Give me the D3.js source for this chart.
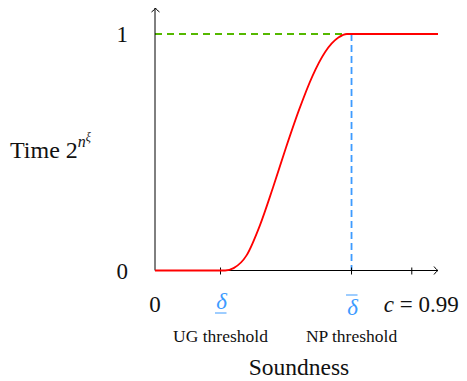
<!DOCTYPE html>
<html>
<head>
<meta charset="utf-8">
<script src="https://cdn.jsdelivr.net/npm/d3@7"></script>
<style>
  body { margin: 0; background: #fff; }
  text { font-family: "Liberation Serif", "DejaVu Serif", serif; fill: #111; }
</style>
</head>
<body>
<svg width="467" height="381"></svg>
<script>
// data (x in axis units, y as fraction of the max time)
var curveX = [0, 1.07, 1.2, 1.4, 1.6, 1.8, 2.0, 2.2, 2.4, 2.6, 2.8, 2.93, 3.0, 4.32];
var curveY = [0, 0, 0.01, 0.065, 0.19, 0.35, 0.52, 0.68, 0.82, 0.925, 0.985, 1.0, 1.0, 1.0];
var tickX = [0, 1, 3, 3.92];
var tickLabels = ["0", "δ", "δ", "c = 0.99"];
var yTicks = [0, 1];
var thresholds = [1, 3];
var thresholdNames = ["UG threshold", "NP threshold"];
var npDelta = 3; // where the curve reaches 1

var svg = d3.select("svg");
var x = d3.scaleLinear().domain([0, 4.32]).range([155, 438]);
var y = d3.scaleLinear().domain([0, 1]).range([270.5, 34]);
var blue = "#3d9bff";

var g = svg.append("g");

// little latex style arrow tips
function arrow(px, py, dir) {
  var p = dir == "up"
    ? "M" + (px - 4) + "," + (py + 4) + " Q" + px + "," + (py + 1) + " " + px + "," + py + " Q" + px + "," + (py + 1) + " " + (px + 4) + "," + (py + 4)
    : "M" + (px - 4) + "," + (py - 4) + " Q" + (px - 1) + "," + py + " " + px + "," + py + " Q" + (px - 1) + "," + py + " " + (px - 4) + "," + (py + 4);
  g.append("path").attr("d", p).attr("fill", "none").attr("stroke", "#000").attr("stroke-width", 1);
}

// dashed guides
g.append("line")
  .attr("x1", x(0)).attr("x2", x(npDelta))
  .attr("y1", y(1)).attr("y2", y(1))
  .attr("stroke", "#55b800").attr("stroke-width", 1.8)
  .attr("stroke-dasharray", "7,5");
g.append("line")
  .attr("x1", x(npDelta)).attr("x2", x(npDelta))
  .attr("y1", y(1)).attr("y2", y(0))
  .attr("stroke", blue).attr("stroke-width", 1.8)
  .attr("stroke-dasharray", "7,4");

// axes
g.append("line").attr("x1", x(0)).attr("x2", x(0)).attr("y1", y(0)).attr("y2", 8)
  .attr("stroke", "#000").attr("stroke-width", 1);
arrow(x(0) + 0.5, 8, "up");
g.append("line").attr("x1", x(0)).attr("x2", 438).attr("y1", y(0)).attr("y2", y(0))
  .attr("stroke", "#000").attr("stroke-width", 1);
arrow(438, y(0), "right");

// x ticks
g.selectAll(".xt").data(tickX.slice(1)).enter().append("line")
  .attr("x1", function(d) { return x(d); }).attr("x2", function(d) { return x(d); })
  .attr("y1", y(0) - 3).attr("y2", y(0) + 4)
  .attr("stroke", "#000").attr("stroke-width", 1);

// curve
var line = d3.line()
  .x(function(d) { return x(d[0]); })
  .y(function(d) { return y(d[1]); })
  .curve(d3.curveMonotoneX);
g.append("path")
  .datum(d3.zip(curveX, curveY))
  .attr("d", line)
  .attr("fill", "none").attr("stroke", "#ff0000").attr("stroke-width", 1.8);

// y tick labels
g.selectAll(".yl").data(yTicks).enter().append("text")
  .attr("x", 128).attr("y", function(d) { return y(d) + 8; })
  .attr("text-anchor", "end").attr("font-size", 23)
  .text(function(d) { return d; });

// x tick labels
tickX.forEach(function(v, i) {
  var t = g.append("text").attr("y", 312).attr("font-size", 23);
  if (i == 0) {
    t.attr("x", x(v)).attr("text-anchor", "middle").text(tickLabels[i]);
  } else if (i == 3) {
    t.attr("x", x(v) - 28).attr("text-anchor", "start");
    t.append("tspan").attr("font-style", "italic").text("c");
    t.append("tspan").text(" = 0.99");
  } else {
    // underline for the lower threshold, overline for the upper one
    var by = i == 1 ? 313 : 295;
    t.attr("x", x(v) + 1).attr("y", i == 1 ? 309 : 315).attr("text-anchor", "middle")
      .attr("font-style", "italic").style("fill", blue).text(tickLabels[i]);
    g.append("line").attr("x1", x(v) - 5.5).attr("x2", x(v) + 6)
      .attr("y1", by).attr("y2", by).attr("stroke", blue).attr("stroke-width", 1);
  }
});

// threshold names
g.selectAll(".tn").data(thresholds).enter().append("text")
  .attr("x", function(d) { return x(d); }).attr("y", 342)
  .attr("text-anchor", "middle").attr("font-size", 17.5)
  .text(function(d, i) { return thresholdNames[i]; });

// axis titles
g.append("text").attr("x", 299).attr("y", 375).attr("text-anchor", "middle")
  .attr("font-size", 23.5).text("Soundness");

var yt = g.append("text").attr("x", 10).attr("y", 158).attr("font-size", 24);
yt.append("tspan").text("Time 2");
yt.append("tspan").attr("font-size", 16).attr("font-style", "italic").attr("dy", -11).text("n");
yt.append("tspan").attr("font-size", 12).attr("font-style", "italic").attr("dy", -6).text("ξ");
</script>
</body>
</html>
